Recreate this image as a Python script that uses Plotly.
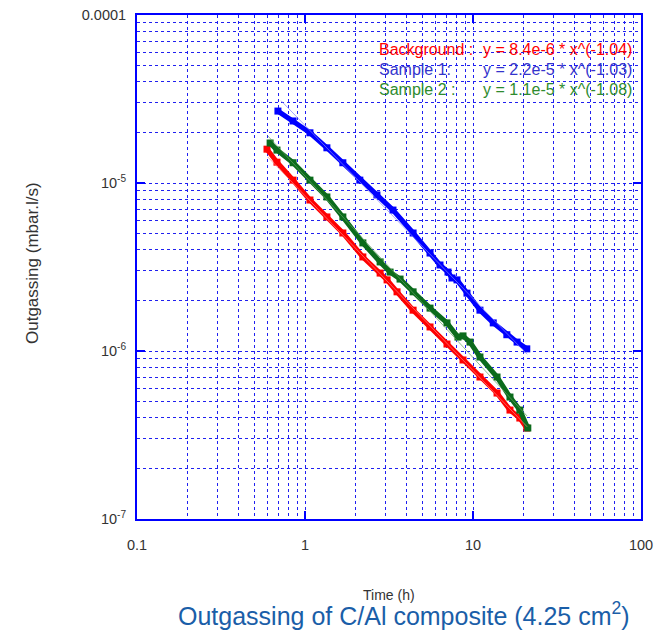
import plotly.graph_objects as go

# ---- data ----
bg_x = [0.594, 0.681, 0.849, 1.07, 1.35, 1.68, 2.21, 2.80, 3.08, 3.53, 4.40, 5.55, 7.00, 8.72, 11.0, 13.9, 16.6, 19.0, 20.9]
bg_y = [1.59e-5, 1.33e-5, 1.04e-5, 7.92e-6, 6.28e-6, 5.04e-6, 3.63e-6, 2.91e-6, 2.65e-6, 2.25e-6, 1.75e-6, 1.39e-6, 1.10e-6, 8.84e-7, 7.00e-7, 5.62e-7, 4.45e-7, 3.99e-7, 3.48e-7]

s1_x = [0.690, 0.849, 1.07, 1.35, 1.68, 2.12, 2.68, 3.34, 4.40, 5.55, 6.36, 7.10, 7.50, 8.03, 9.21, 11.0, 13.2, 15.9, 18.3, 20.9]
s1_y = [2.68e-5, 2.34e-5, 1.99e-5, 1.62e-5, 1.32e-5, 1.04e-5, 8.49e-6, 6.90e-6, 5.04e-6, 3.83e-6, 3.25e-6, 2.95e-6, 2.72e-6, 2.65e-6, 2.21e-6, 1.75e-6, 1.47e-6, 1.25e-6, 1.13e-6, 1.03e-6]

s2_x = [0.620, 0.681, 0.849, 1.07, 1.35, 1.68, 2.21, 2.80, 3.21, 3.68, 4.40, 5.55, 7.00, 8.14, 8.72, 9.60, 11.0, 13.9, 16.6, 19.0, 21.2]
s2_y = [1.73e-5, 1.57e-5, 1.32e-5, 1.04e-5, 8.26e-6, 6.28e-6, 4.40e-6, 3.39e-6, 2.95e-6, 2.68e-6, 2.25e-6, 1.80e-6, 1.47e-6, 1.21e-6, 1.23e-6, 1.13e-6, 9.21e-7, 7.00e-7, 5.32e-7, 4.45e-7, 3.48e-7]

# fitted power-law lines (end points)
fit_bg_x = [0.60, 21.0]
fit_bg_y = [1.43e-5, 3.54e-7]
fit_s1_x = [0.72, 21.0]
fit_s1_y = [3.09e-5, 9.56e-7]
fit_s2_x = [0.60, 21.0]
fit_s2_y = [1.91e-5, 4.10e-7]

legend_names = ["Background :", "Sample 1:", "Sample 2 :"]
legend_eqs = ["y = 8.4e-6 * x^(-1.04)", "y = 2.2e-5 * x^(-1.03)", "y = 1.1e-5 * x^(-1.08)"]

x_tickvals = [0.1, 1, 10, 100]
x_ticktext = ["0.1", "1", "10", "100"]
y_tickvals = [1e-4, 1e-5, 1e-6, 1e-7]
y_ticktext = ["0.0001", "10<sup>-5</sup>", "10<sup>-6</sup>", "10<sup>-7</sup>"]

RED = "#ff0000"
BLUE = "#0000ff"
GREEN = "#0b6b1c"
GRID = "#2020f0"
FONT = "Arial, Liberation Sans, sans-serif"

# page offset of the plot (browser body margin)
OFF = 8
PL, PR, PT, PB = 137, 641, 15, 519      # plot box in page pixels (reference)
PW, PH = PR - PL, PB - PT

def px(xp):
    return (xp - PL) / PW

def py(yp):
    return (PB - yp) / PH

fig = go.Figure()

def data_trace(x, y, color):
    return go.Scatter(x=x, y=y, mode="lines+markers",
                      line=dict(color=color, width=5),
                      marker=dict(symbol="square", size=7, color=color),
                      showlegend=False, hoverinfo="skip")

def fit_trace(x, y, color):
    return go.Scatter(x=x, y=y, mode="lines", line=dict(color=color, width=1),
                      opacity=0.7, showlegend=False, hoverinfo="skip")

fig.add_trace(data_trace(bg_x, bg_y, RED))
fig.add_trace(data_trace(s2_x, s2_y, GREEN))
fig.add_trace(data_trace(s1_x, s1_y, BLUE))
fig.add_trace(fit_trace(fit_bg_x, fit_bg_y, "#ff8080"))
fig.add_trace(fit_trace(fit_s2_x, fit_s2_y, "#60a060"))
fig.add_trace(fit_trace(fit_s1_x, fit_s1_y, "#8080ff"))

axis_common = dict(
    type="log",
    showline=True, linecolor=BLUE, linewidth=2, mirror="ticks",
    ticks="inside", ticklen=8, tickcolor=BLUE, tickwidth=2,
    showgrid=True, gridcolor=GRID, griddash="dot", gridwidth=1,
    zeroline=False,
    tickfont=dict(family=FONT, size=14.5, color="#333333"),
    tickmode="array",
    ticklabeloverflow="allow",
    minor=dict(showgrid=True, gridcolor=GRID, griddash="dot", gridwidth=1, dtick="D1", ticks=""),
)

fig.update_xaxes(**axis_common, range=[-1, 2], tickvals=x_tickvals, ticktext=x_ticktext,
                 ticklabelstandoff=12)
fig.update_yaxes(**axis_common, range=[-7, -4], tickvals=y_tickvals, ticktext=y_ticktext,
                 ticklabelstandoff=6)

leg_colors = [RED, "#3333cc", "#2e8b2e"]
leg_y = [50, 70, 89]
for name, eq, c, yp in zip(legend_names, legend_eqs, leg_colors, leg_y):
    fig.add_annotation(text=name, xref="paper", yref="paper",
                       x=px(377), y=py(yp),
                       xanchor="left", yanchor="middle", showarrow=False,
                       font=dict(family=FONT, size=16, color=c))
    fig.add_annotation(text=eq, xref="paper", yref="paper",
                       x=px(634), y=py(yp),
                       xanchor="right", yanchor="middle", showarrow=False,
                       font=dict(family=FONT, size=16, color=c))

fig.add_annotation(text="Time (h)", xref="paper", yref="paper",
                   x=px(389), y=py(595), xanchor="center", yanchor="middle",
                   showarrow=False, font=dict(family=FONT, size=14, color="#333333"))
fig.add_annotation(text="Outgassing (mbar.l/s)", xref="paper", yref="paper",
                   x=px(32), y=py(263), xanchor="center", yanchor="middle",
                   textangle=-90, showarrow=False,
                   font=dict(family=FONT, size=17, color="#333333"))
fig.add_annotation(text="Outgassing of C/Al composite (4.25 cm<sup>2</sup>)",
                   xref="paper", yref="paper",
                   x=px(404), y=py(614),
                   xanchor="center", yanchor="middle", showarrow=False,
                   font=dict(family=FONT, size=25, color="#1a5ea8"))

W, H = 665 - OFF, 631 - OFF
fig.update_layout(
    width=W, height=H,
    margin=dict(l=PL - OFF, r=W - (PR - OFF), t=PT - OFF, b=H - (PB - OFF), autoexpand=False),
    paper_bgcolor="white", plot_bgcolor="white",
    showlegend=False,
)

fig.write_html("out.html")
